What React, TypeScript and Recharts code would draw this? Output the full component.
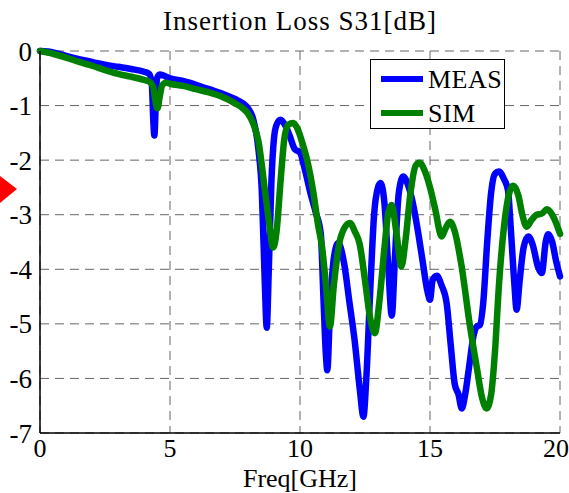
import { LineChart, Line, XAxis, YAxis, CartesianGrid, Legend } from "recharts";

const measFreq = [
  0, 0.3, 0.7, 1.0, 1.5, 2.0, 2.5, 3.0, 3.5, 4.0, 4.2, 4.3, 4.36, 4.4, 4.45, 4.5, 4.6, 4.8, 5.0, 5.5,
  6.0, 6.5, 7.0, 7.5, 7.8, 8.0, 8.2, 8.4, 8.53, 8.65, 8.72, 8.8, 8.9, 9.0, 9.1, 9.25, 9.45, 9.6, 9.8,
  10.0, 10.2, 10.4, 10.6, 10.8, 10.9, 11.0, 11.05, 11.15, 11.3, 11.47, 11.7, 11.9, 12.1, 12.3, 12.44,
  12.55, 12.7, 12.85, 13.0, 13.1, 13.25, 13.4, 13.53, 13.65, 13.8, 13.97, 14.15, 14.3, 14.5, 14.7,
  14.9, 15.0, 15.1, 15.26, 15.45, 15.64, 15.8, 15.95, 16.1, 16.22, 16.35, 16.5, 16.67, 16.8, 16.92,
  17.05, 17.2, 17.35, 17.5, 17.65, 17.85, 18.0, 18.1, 18.25, 18.33, 18.45, 18.6, 18.78, 18.95, 19.15,
  19.3, 19.45, 19.55, 19.7, 19.85, 20.0,
];
const measDb = [
  0, -0.01, -0.05, -0.09, -0.15, -0.2, -0.25, -0.29, -0.33, -0.38, -0.42, -0.6, -1.3, -1.55, -1.0, -0.5,
  -0.43, -0.46, -0.5, -0.55, -0.62, -0.7, -0.78, -0.88, -0.96, -1.05, -1.25, -1.8, -2.55, -4.3, -5.07,
  -4.0, -2.4, -1.6, -1.35, -1.26, -1.38, -1.55, -1.8, -1.86, -2.2, -2.6, -2.95, -3.35, -4.5, -5.6,
  -5.85, -4.8, -3.8, -3.52, -3.9, -4.6, -5.3, -6.2, -6.7, -6.0, -4.4, -3.0, -2.5, -2.42, -2.8, -4.0,
  -4.85, -3.8, -2.6, -2.3, -2.45, -2.7, -3.2, -3.8, -4.4, -4.56, -4.2, -4.12, -4.3, -4.62, -5.4, -6.1,
  -6.3, -6.55, -6.3, -5.8, -5.23, -5.05, -5.02, -4.6, -3.5, -2.6, -2.25, -2.21, -2.35, -2.55, -3.2,
  -4.3, -4.74, -4.2, -3.6, -3.4, -3.55, -3.95, -4.07, -3.5, -3.36, -3.5, -3.85, -4.13,
];

const simFreq = [
  0, 0.5, 1.0, 1.5, 2.0, 2.5, 3.0, 3.5, 4.0, 4.2, 4.35, 4.45, 4.52, 4.6, 4.7, 4.85, 5.0, 5.5, 6.0, 6.5,
  7.0, 7.5, 7.8, 8.0, 8.2, 8.4, 8.65, 8.8, 8.97, 9.1, 9.25, 9.4, 9.55, 9.74, 9.9, 10.1, 10.3, 10.5,
  10.7, 10.85, 11.0, 11.15, 11.3, 11.5, 11.7, 11.92, 12.1, 12.3, 12.5, 12.7, 12.88, 13.05, 13.25, 13.4,
  13.53, 13.7, 13.9, 14.05, 14.25, 14.45, 14.6, 14.8, 15.0, 15.2, 15.45, 15.6, 15.77, 15.95, 16.2,
  16.54, 16.8, 17.0, 17.18, 17.35, 17.5, 17.65, 17.85, 18.05, 18.2, 18.4, 18.55, 18.72, 18.9, 19.1,
  19.3, 19.5, 19.7, 19.85, 20.0,
];
const simDb = [
  0, -0.05, -0.12, -0.2, -0.27, -0.35, -0.42, -0.47, -0.53, -0.56, -0.65, -0.95, -1.05, -0.85, -0.63,
  -0.58, -0.6, -0.64, -0.7, -0.76, -0.84, -0.96, -1.05, -1.15, -1.33, -1.65, -2.55, -3.1, -3.6, -3.3,
  -2.4, -1.6, -1.35, -1.32, -1.42, -1.7, -2.05, -2.55, -3.2, -3.6, -4.3, -5.05, -4.3, -3.55, -3.25,
  -3.15, -3.3, -3.55, -4.2, -4.9, -5.17, -4.6, -3.6, -2.95, -2.82, -3.3, -3.95, -3.5, -2.6, -2.1,
  -2.05, -2.2, -2.5, -2.9, -3.4, -3.25, -3.13, -3.3, -3.9, -5.05, -5.8, -6.35, -6.55, -6.3, -5.5,
  -4.3, -3.2, -2.6, -2.47, -2.65, -3.0, -3.22, -3.1, -3.0, -2.98, -2.9, -3.0, -3.15, -3.35,
];

const freqTicks = [0, 5, 10, 15, 20];
const dbTicks = [-7, -6, -5, -4, -3, -2, -1, 0];

const measData = measFreq.map((f, i) => ({ f, v: measDb[i] }));
const simData = simFreq.map((f, i) => ({ f, v: simDb[i] }));

const FONT = "'Liberation Serif', 'Times New Roman', serif";
const FS = 27;

function LegendBox() {
  const row = (color: string, label: string) => (
    <div style={{ display: "flex", alignItems: "center", height: 34 }}>
      <div style={{ width: 42, height: 6, background: color, marginLeft: 10, marginRight: 5 }} />
      <span style={{ letterSpacing: 0.5 }}>{label}</span>
    </div>
  );
  return (
    <div
      style={{
        width: 135,
        height: 70,
        border: "1px solid #000",
        background: "#fff",
        fontFamily: FONT,
        fontSize: 26,
        color: "#000",
        paddingTop: 2,
        boxSizing: "border-box",
        lineHeight: "27px",
      }}
    >
      {row("#0000ff", "MEAS")}
      {row("#008000", "SIM")}
    </div>
  );
}

export default function App() {
  return (
    <div style={{ position: "absolute", left: 0, top: 0, width: 569, height: 493, background: "#fff" }}>
      <div
        style={{
          position: "absolute",
          left: 40,
          width: 520,
          top: 6,
          textAlign: "center",
          fontFamily: FONT,
          fontSize: FS,
          color: "#000",
          letterSpacing: 1,
        }}
      >
        Insertion Loss S31[dB]
      </div>
      <svg style={{ position: "absolute", left: 0, top: 176 }} width={18} height={28}>
        <polygon points="0,0 17,13 0,27" fill="#ff0000" />
      </svg>
      <LineChart width={569} height={493} margin={{ top: 51, right: 9, left: 0, bottom: 30 }}>
        <CartesianGrid
          stroke="#666"
          strokeDasharray="9 6"
          horizontalValues={dbTicks}
          verticalValues={freqTicks}
        />
        <XAxis
          dataKey="f"
          type="number"
          domain={[0, 20]}
          ticks={freqTicks}
          allowDuplicatedCategory={false}
          height={30}
          tickSize={0}
          tickMargin={6}
          axisLine={{ stroke: "#000", strokeWidth: 1.5 }}
          tick={{ fill: "#000", fontSize: 26, fontFamily: FONT }}
          label={{ value: "Freq[GHz]", position: "insideBottom", offset: -24, fill: "#000", fontSize: 26, fontFamily: FONT }}
        />
        <YAxis
          dataKey="v"
          type="number"
          domain={[-7, 0]}
          ticks={dbTicks}
          width={40}
          tickSize={0}
          tickMargin={8}
          axisLine={{ stroke: "#000", strokeWidth: 1.5 }}
          tick={{ fill: "#000", fontSize: FS, fontFamily: FONT }}
        />
        <Legend
          layout="horizontal"
          verticalAlign="middle"
          align="center"
          wrapperStyle={{ left: 370, top: 59, width: 135, height: 72 }}
          content={() => <LegendBox />}
        />
        <Line
          data={measData}
          dataKey="v"
          name="MEAS"
          type="monotone"
          stroke="#0000ff"
          strokeWidth={6.5}
          strokeLinejoin="round"
          strokeLinecap="round"
          dot={false}
          activeDot={false}
          isAnimationActive={false}
        />
        <Line
          data={simData}
          dataKey="v"
          name="SIM"
          type="monotone"
          stroke="#008000"
          strokeWidth={6.5}
          strokeLinejoin="round"
          strokeLinecap="round"
          dot={false}
          activeDot={false}
          isAnimationActive={false}
        />
      </LineChart>
    </div>
  );
}
